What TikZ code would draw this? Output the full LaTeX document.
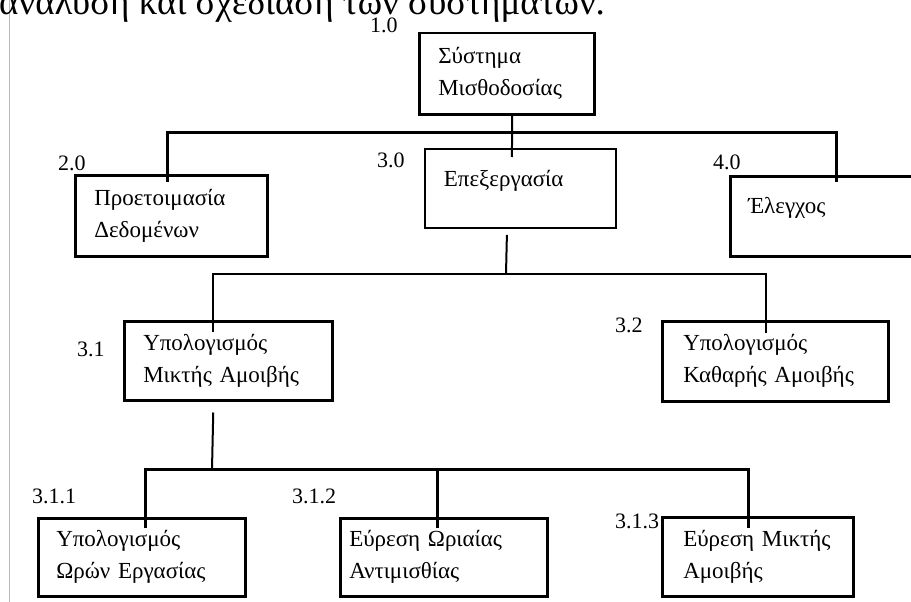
\documentclass[tikz,border=0pt]{standalone}
\usepackage{fontspec}
\setmainfont{Liberation Serif}
\begin{document}
\begin{tikzpicture}[x=1pt,y=-1pt,
  box/.style={draw, line width=2.5pt, rectangle, anchor=north west, inner ysep=0pt, align=left, font=\fontsize{23}{32}\selectfont},
  num/.style={font=\fontsize{22}{24}\selectfont, inner sep=0pt, anchor=base west},
  link/.style={line width=2pt},
  bus/.style={line width=3pt}]
\useasboundingbox (0,0) rectangle (911,602);
\clip (0,0) rectangle (911,602);

% page margin line and clipped heading text
\draw[gray!55, line width=1pt] (9,0) -- (9,602);
\node[anchor=base west, inner sep=0pt, font=\fontsize{37}{40}\selectfont] (head) at (-1,15) {ανάλυση και σχεδίαση των συστημάτων.};

% boxes
\node[box, minimum width=175pt, minimum height=81pt, inner xsep=19pt, text width=137pt] (b1) at (418,32) {Σύστημα\\Μισθοδοσίας};
\node[box, minimum width=192pt, minimum height=81pt, inner xsep=19pt, text width=154pt] (b2) at (74,174) {Προετοιμασία\\Δεδομένων};
\node[box, line width=1.8pt, minimum width=191pt, minimum height=79pt, inner xsep=19pt, text width=153pt] (b3) at (424,148) {\raisebox{7.5pt}[\height][\depth]{Επεξεργασία}};
\node[box, minimum width=186pt, minimum height=80pt, inner xsep=18pt, text width=150pt] (b4) at (729,175) {\raisebox{8pt}[\height][\depth]{Έλεγχος}};
\node[box, minimum width=208pt, minimum height=79pt, inner xsep=19pt, text width=170pt] (b31) at (123,320) {Υπολογισμός\\Μικτής~Αμοιβής};
\node[box, minimum width=226pt, minimum height=80pt, inner xsep=21pt, text width=184pt] (b32) at (661,320) {Υπολογισμός\\Καθαρής~Αμοιβής};
\node[box, minimum width=207pt, minimum height=78pt, inner xsep=18pt, text width=171pt] (b311) at (37,517) {Υπολογισμός\\Ωρών~Εργασίας};
\node[box, minimum width=207pt, minimum height=78pt, inner xsep=9pt, text width=189pt] (b312) at (339,517) {Εύρεση~Ωριαίας\\Αντιμισθίας};
\node[box, minimum width=191pt, minimum height=79pt, inner xsep=21pt, text width=149pt] (b313) at (661,516) {Εύρεση~Μικτής\\Αμοιβής};

% numbers
\node[num] (n10) at (370,33) {1.0};
\node[num] (n20) at (58,170) {2.0};
\node[num] (n30) at (377,167) {3.0};
\node[num] (n40) at (713,169) {4.0};
\node[num] (n31) at (77,356) {3.1};
\node[num] (n32) at (615,332) {3.2};
\node[num] (n311) at (32,503) {3.1.1};
\node[num] (n312) at (292,503) {3.1.2};
\node[num] (n313) at (615,528) {3.1.3};

% level 1 connectors
\coordinate (bus1) at (511,132);
\draw[link] ([xshift=5.5pt]b1.south) -- ([xshift=-8.5pt,yshift=-9pt]b3.north);
\draw[bus] ([xshift=-4pt,yshift=-8pt]b2.north) |- (bus1) -| ([xshift=13pt,yshift=-7pt]b4.north);

% level 2 connectors
\coordinate (bus2) at (506,274);
\draw[link] ([xshift=-13.5pt,yshift=-6pt]b3.south) -- (bus2);
\draw[link] ([xshift=-15pt,yshift=-12pt]b31.north) |- (bus2) -| ([xshift=-9pt,yshift=-13pt]b32.north);

% level 3 connectors
\coordinate (bus3) at (212,469);
\draw[link] ([xshift=-15pt,yshift=-11pt]b31.south) -- (bus3);
\draw[bus] ([xshift=3.5pt,yshift=-11pt]b311.north) |- (bus3) -| ([xshift=-9.5pt,yshift=-12pt]b313.north);
\draw[bus] ([xshift=-6.5pt,yshift=-11pt]b312.north) -- ++(0,-59);
\end{tikzpicture}
\end{document}
